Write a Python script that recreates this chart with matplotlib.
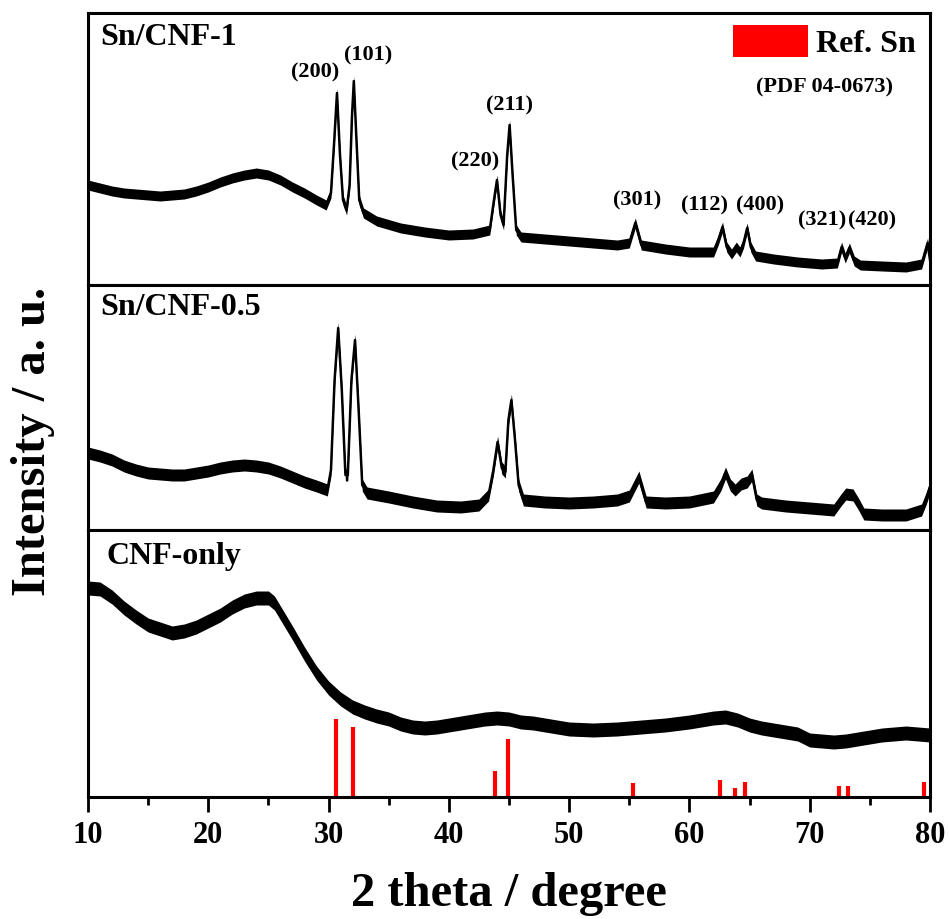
import matplotlib
matplotlib.use("Agg")
import matplotlib.pyplot as plt
from matplotlib.patches import Rectangle

plt.rcParams['font.family'] = ['Liberation Serif', 'DejaVu Serif']
plt.rcParams['font.weight'] = 'bold'

# ---------------- data ----------------
# Sn/CNF-1
top_x = [10.0, 11, 12, 13, 14, 15, 16, 17, 18, 19, 20, 21, 22, 23, 24, 25, 26, 27, 28, 29,
         29.8, 30.2, 30.45, 30.7, 30.95, 31.2, 31.5, 31.75, 31.95, 32.1, 32.3, 32.55, 32.9,
         34, 36, 38, 40, 42, 43.4, 43.75, 44.0, 44.3, 44.55, 44.85, 45.05, 45.3, 45.6, 46.0,
         48, 50, 52, 54, 55.0, 55.5, 56.0, 58, 60, 62.0, 62.4, 62.75, 63.1, 63.5, 63.9, 64.2,
         64.5, 64.8, 65.1, 65.5, 67, 69, 71, 72.3, 72.65, 72.95, 73.3, 73.7, 74.2, 76, 78,
         79.3, 79.8, 80]
top_y = [100, 97, 94, 92, 91, 90, 89, 90, 91, 94, 98, 103, 107, 110, 112, 110, 105, 98, 92, 85,
         80, 92, 140, 192, 130, 85, 75, 100, 170, 204, 150, 85, 72,
         64, 57, 53, 50, 51, 55, 85, 105, 70, 60, 130, 160, 110, 55, 48,
         46, 44, 42, 40, 42, 62, 40, 36, 33, 33, 45, 58, 38, 31, 38, 33,
         42, 57, 38, 29, 26, 23, 21, 22, 38, 27, 37, 24, 20, 19, 18,
         21, 42, 25]

# Sn/CNF-0.5
mid_x = [10, 11, 12, 13, 14, 15, 16, 17, 18, 19, 20, 21, 22, 23, 24, 25, 26, 27, 28, 29, 29.9,
         30.2, 30.5, 30.8, 31.1, 31.4, 31.6, 31.9, 32.2, 32.5, 32.8, 33.2, 35, 37, 39, 41, 42.5,
         43.3, 43.7, 44.05, 44.4, 44.7, 44.95, 45.2, 45.5, 45.8, 46.2, 48, 50, 52, 54, 55.0,
         55.8, 56.4, 58, 60, 62, 62.6, 63.0, 63.4, 63.8, 64.3, 64.8, 65.2, 65.6, 66, 68, 70,
         72, 72.6, 73.0, 73.6, 74.1, 74.5, 76, 78, 79.3, 79.7, 80]
mid_y = [77, 74, 70, 64, 60, 57, 56, 55, 55, 57, 59, 62, 64, 65, 64, 62, 58, 53, 48, 44, 40,
         60, 150, 202, 140, 55, 55, 150, 190, 120, 45, 37, 33, 28, 24, 23, 25,
         35, 60, 88, 62, 58, 110, 130, 90, 45, 30, 28, 27, 28, 30, 34,
         53, 28, 27, 28, 33, 45, 57, 45, 40, 46, 48, 55, 30, 27, 24, 22,
         20, 30, 36, 35, 25, 16, 15, 15, 20, 32, 43]

# CNF-only
bot_x = [10, 11, 12, 13, 14, 15, 16, 17, 18, 19, 20, 21, 22, 23, 24, 25, 25.5, 26, 27, 28, 29,
         30, 31, 32, 33, 34, 35, 36, 37, 38, 39, 40, 41, 42, 43, 44, 45, 46, 47, 48, 50, 52,
         54, 56, 58, 60, 62, 63, 64, 65, 66, 68, 69, 70, 71, 72, 73, 74, 75, 76, 78, 80]
bot_y = [209, 208, 200, 189, 180, 172, 168, 164, 166, 170, 176, 182, 190, 196, 199, 199, 194,
         184, 164, 143, 124, 109, 98, 90, 85, 81, 78, 73, 70, 69, 70, 72, 74, 76, 78, 79, 78,
         75, 74, 72, 68, 67, 68, 70, 72, 75, 79, 80, 77, 72, 69, 65, 63, 57, 56, 55, 56, 58,
         60, 62, 64, 62]

# Reference Sn (PDF 04-0673) stick pattern
ref_pos = [30.64, 32.02, 43.87, 44.90, 55.33, 62.54, 63.78, 64.58, 72.44, 73.19, 79.46]
ref_h = [78, 70, 26, 58, 14, 17, 9, 15, 11, 11, 15]

# noise band half-width of each pattern
noise = [5, 6, 7]

peak_labels = ['(200)', '(101)', '(220)', '(211)', '(301)', '(112)', '(400)', '(321)', '(420)']
peak_lab_x = [28.87, 33.28, 42.17, 45.08, 55.64, 61.29, 65.86, 71.01, 75.17]
peak_lab_y = [213, 230, 124, 180, 85, 80, 80, 65, 65]

sample_names = ['Sn/CNF-1', 'Sn/CNF-0.5', 'CNF-only']
xticks = [10, 20, 30, 40, 50, 60, 70, 80]

# ---------------- figure ----------------
W, H = 950, 919
fig = plt.figure(figsize=(W / 100, H / 100), dpi=100)

def px_axes(x0, y0, x1, y1):
    return fig.add_axes([x0 / W, 1 - y1 / H, (x1 - x0) / W, (y1 - y0) / H])

ax_top = px_axes(88, 13, 930, 285)
ax_mid = px_axes(88, 285, 930, 530)
ax_bot = px_axes(88, 530, 930, 797)
axes = [ax_top, ax_mid, ax_bot]
ylims = [272, 245, 267]
datasets = [(top_x, top_y), (mid_x, mid_y), (bot_x, bot_y)]

for i, (ax, (xs, ys)) in enumerate(zip(axes, datasets)):
    lo = [v - noise[i] for v in ys]
    hi = [v + noise[i] for v in ys]
    ax.fill_between(xs, lo, hi, color='black', lw=0)
    ax.plot(xs, ys, color='black', lw=1.8)
    ax.set_xlim(10, 80)
    ax.set_ylim(0, ylims[i])
    ax.set_yticks([])
    for s in ax.spines.values():
        s.set_linewidth(2.2)
    ax.text(0.015 if i < 2 else 0.022, 0.91 if i < 2 else 0.9, sample_names[i],
            transform=ax.transAxes, fontsize=23, fontweight='bold', ha='left', va='center')
    if i < 2:
        ax.set_xticks([])

# reference sticks
ax_bot.vlines(ref_pos, 0, ref_h, color='#ff0000', lw=3)

# x axis ticks
ax_bot.set_xticks(xticks)
ax_bot.set_xticks([15, 25, 35, 45, 55, 65, 75], minor=True)
ax_bot.tick_params(axis='x', which='major', direction='out', length=11, width=2,
                   labelsize=22, pad=6)
ax_bot.tick_params(axis='x', which='minor', direction='out', length=6, width=2)
for lab in ax_bot.get_xticklabels():
    lab.set_fontweight('bold')

# peak labels
for lab, lx, ly in zip(peak_labels, peak_lab_x, peak_lab_y):
    ax_top.text(lx, ly, lab, fontsize=16, fontweight='bold', ha='center', va='center')

# legend for the reference pattern
fig.patches.append(Rectangle((733 / W, 1 - 57 / H), 75 / W, 32 / H, transform=fig.transFigure,
                             facecolor='#ff0000', edgecolor='none'))
fig.text(866 / W, 1 - 45 / H, 'Ref. Sn', fontsize=23, fontweight='bold', ha='center', va='center')
fig.text(825 / W, 1 - 87 / H, '(PDF 04-0673)', fontsize=16, fontweight='bold',
         ha='center', va='center')

# axis titles
fig.text(509 / W, 1 - 906 / H, '2 theta / degree', fontsize=35, fontweight='bold',
         ha='center', va='baseline')
fig.text(33 / W, 1 - 441 / H, 'Intensity / a. u.', fontsize=35, fontweight='bold',
         ha='center', va='center', rotation=90)

fig.savefig('out.png', dpi=100)
